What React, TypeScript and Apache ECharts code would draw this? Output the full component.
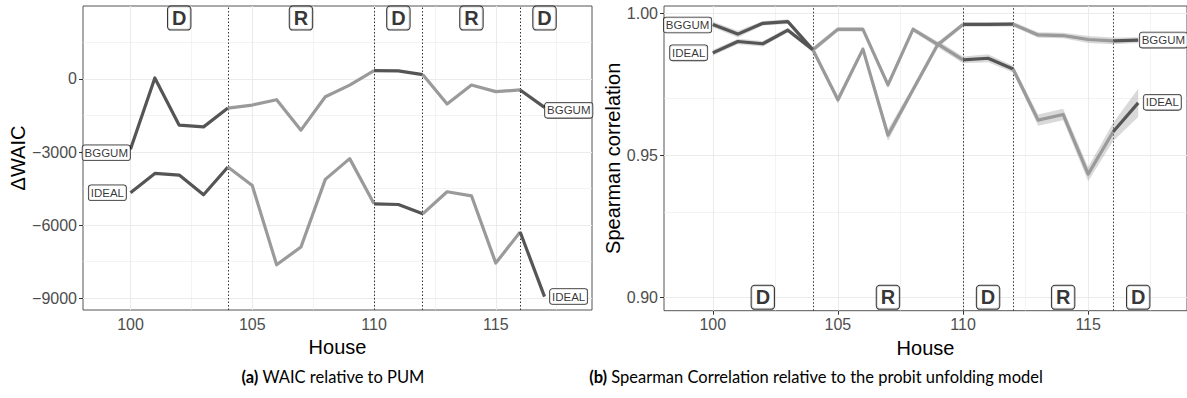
import React, { useEffect, useRef } from "react";
import * as echarts from "echarts";

// ---------- data ----------
const houses = [100, 101, 102, 103, 104, 105, 106, 107, 108, 109, 110, 111, 112, 113, 114, 115, 116, 117];

const waicBGGUM = [-2885, 40, -1895, -1965, -1195, -1070, -850, -2100, -730, -250, 340, 330, 180, -1030, -250, -520, -450, -1165];
const waicIDEAL = [-4670, -3874, -3943, -4750, -3614, -4368, -7624, -6895, -4121, -3268, -5122, -5150, -5534, -4629, -4794, -7555, -6277, -8929];

const corBGGUM = [0.9961, 0.9927, 0.9965, 0.9971, 0.9872, 0.9944, 0.9944, 0.9748, 0.9944, 0.989, 0.9961, 0.9961, 0.9962, 0.9924, 0.9922, 0.9908, 0.9903, 0.9906];
const corIDEAL = [0.9861, 0.9901, 0.9893, 0.9941, 0.9872, 0.9696, 0.9874, 0.9571, 0.9731, 0.9892, 0.9836, 0.9842, 0.9804, 0.9624, 0.9644, 0.9434, 0.9583, 0.9685];
const corBGGUMse = [0.001, 0.0012, 0.0008, 0.0008, 0.001, 0.0008, 0.0008, 0.0012, 0.0008, 0.001, 0.0008, 0.0008, 0.0008, 0.001, 0.001, 0.0012, 0.0012, 0.001];
const corIDEALse = [0.001, 0.001, 0.001, 0.0008, 0.001, 0.0013, 0.001, 0.002, 0.0012, 0.0012, 0.0012, 0.0014, 0.0012, 0.002, 0.002, 0.0025, 0.0032, 0.005];

const partyBreaks = [104, 110, 112, 116];
const majorities = ["D", "R", "D", "R", "D"];
const partyLabelX = [102, 107, 111, 114, 117];
const waicPartyLabelY = 2500;
const corPartyLabelY = 0.9;

const xMajor = [100, 105, 110, 115];
const xMinor = [102.5, 107.5, 112.5, 117.5];
const waicMajor = [-9000, -6000, -3000, 0];
const waicMinor = [-7500, -4500, -1500, 1500];
const corMajor = [0.9, 0.95, 1.0];
const corMinor = [0.925, 0.975];

// ---------- styles ----------
const FONT = "Liberation Sans, Arial, Helvetica, sans-serif";
const CAP_FONT = "Lato, Noto Sans, sans-serif";
const DARK = "#555555";
const LIGHT = "#9a9a9a";
const GRIDC = "#ebebeb";

function xAxisCfg(gridIndex: number) {
  return {
    type: "value",
    gridIndex,
    min: 98.05,
    max: 118.95,
    name: "House",
    nameLocation: "middle",
    nameGap: 22,
    nameTextStyle: { fontSize: 20, color: "#000", fontFamily: FONT },
    axisLine: { show: false },
    axisTick: { show: true, customValues: xMajor, length: 4, lineStyle: { color: "#333", width: 1 } },
    axisLabel: { customValues: xMajor, fontSize: 16, color: "#4d4d4d", fontFamily: FONT, margin: 6 },
    splitLine: { show: false },
    minorSplitLine: { show: false },
  };
}

function yAxisCfg(gridIndex: number, min: number, max: number, ticks: number[], name: string, nameGap: number, fmt: (v: number) => string) {
  return {
    type: "value",
    gridIndex,
    min,
    max,
    name,
    nameLocation: "middle",
    nameGap,
    nameTextStyle: { fontSize: 20, color: "#000", fontFamily: FONT },
    axisLine: { show: false },
    axisTick: { show: true, customValues: ticks, length: 4, lineStyle: { color: "#333", width: 1 } },
    axisLabel: { customValues: ticks, fontSize: 16, color: "#4d4d4d", fontFamily: FONT, margin: 6, formatter: fmt },
    splitLine: { show: false },
  };
}

function gridLines(xMaj: number[], xMin: number[], yMaj: number[], yMin: number[]) {
  const d: any[] = [];
  xMin.forEach((v) => d.push({ xAxis: v, lineStyle: { color: GRIDC, width: 0.6, type: "solid" } }));
  yMin.forEach((v) => d.push({ yAxis: v, lineStyle: { color: GRIDC, width: 0.6, type: "solid" } }));
  xMaj.forEach((v) => d.push({ xAxis: v, lineStyle: { color: GRIDC, width: 1.1, type: "solid" } }));
  yMaj.forEach((v) => d.push({ yAxis: v, lineStyle: { color: GRIDC, width: 1.1, type: "solid" } }));
  return { silent: true, symbol: "none", z: 1, label: { show: false }, animation: false, data: d };
}

function vLines() {
  return {
    silent: true,
    symbol: "none",
    z: 2,
    label: { show: false },
    animation: false,
    lineStyle: { color: "#333", width: 1, type: [1.5, 2] },
    data: partyBreaks.map((b) => ({ xAxis: b })),
  };
}

function segmentSeries(vals: number[], xi: number, yi: number) {
  const bounds = [houses[0], ...partyBreaks, houses[houses.length - 1]];
  const out: any[] = [];
  for (let s = 0; s < bounds.length - 1; s++) {
    const lo = bounds[s];
    const hi = bounds[s + 1];
    const data = houses.map((h, i) => [h, vals[i]]).filter((p) => p[0] >= lo && p[0] <= hi);
    out.push({
      type: "line",
      xAxisIndex: xi,
      yAxisIndex: yi,
      data,
      symbol: "none",
      silent: true,
      z: 4,
      lineStyle: { color: majorities[s] === "D" ? DARK : LIGHT, width: 3.2, join: "round", cap: "butt" },
    });
  }
  return out;
}

function ribbonSeries(vals: number[], se: number[]) {
  const data = houses.map((h, i) => [h, vals[i] - se[i], vals[i] + se[i]]);
  return {
    type: "custom",
    xAxisIndex: 1,
    yAxisIndex: 1,
    silent: true,
    z: 3,
    clip: true,
    data,
    encode: { x: 0, y: [1, 2] },
    renderItem: (params: any, api: any) => {
      if (params.dataIndex !== 0) return null;
      const upper = data.map((d) => api.coord([d[0], d[2]]));
      const lower = data.map((d) => api.coord([d[0], d[1]])).reverse();
      return {
        type: "polygon",
        shape: { points: [...upper, ...lower] },
        style: { fill: "rgba(150,150,150,0.36)", stroke: "none" },
      };
    },
  };
}

const boxLabel = {
  show: true,
  fontSize: 11.5,
  fontFamily: FONT,
  color: "#000",
  backgroundColor: "#fff",
  borderColor: "#000",
  borderWidth: 0.8,
  borderRadius: 2.5,
  padding: [2, 2, 1, 2],
  lineHeight: 12,
};

function endLabelSeries(vals: number[], name: string, xi: number, yi: number, sd: number, so: number, ed: number, eo: number) {
  const last = houses.length - 1;
  return {
    type: "scatter",
    xAxisIndex: xi,
    yAxisIndex: yi,
    symbolSize: 1,
    silent: true,
    z: 10,
    itemStyle: { color: "rgba(0,0,0,0)" },
    label: { ...boxLabel, formatter: name },
    data: [
      { value: [houses[0], vals[0]], label: { position: "left", distance: sd, offset: [0, so] } },
      { value: [houses[last], vals[last]], label: { position: "right", distance: ed, offset: [0, eo] } },
    ],
  };
}

function partySeries(xi: number, yi: number, yv: number, markLines: any) {
  return {
    type: "scatter",
    xAxisIndex: xi,
    yAxisIndex: yi,
    symbolSize: 1,
    silent: true,
    z: 10,
    itemStyle: { color: "rgba(0,0,0,0)" },
    label: {
      show: true,
      position: "inside",
      formatter: (p: any) => p.data[2],
      fontSize: 20,
      fontWeight: "bold",
      fontFamily: FONT,
      color: "#000",
      backgroundColor: "#fff",
      borderColor: "#000",
      borderWidth: 1,
      borderRadius: 3,
      padding: [2, 4, 1, 4],
      lineHeight: 20,
    },
    data: partyLabelX.map((x, i) => [x, yv, majorities[i]]),
    markLine: markLines,
  };
}

function guideHolder(xi: number, yi: number, yv: number, markLine: any) {
  return {
    type: "scatter",
    xAxisIndex: xi,
    yAxisIndex: yi,
    symbolSize: 0.5,
    silent: true,
    itemStyle: { color: "rgba(0,0,0,0)" },
    data: [[houses[0], yv]],
    markLine,
  };
}

export default function App() {
  const ref = useRef<HTMLDivElement>(null);
  useEffect(() => {
    if (!ref.current) return;
    const chart = echarts.init(ref.current, null, { renderer: "svg" });
    const capRich = { b: { fontWeight: "bold", fontFamily: CAP_FONT, fontSize: 16.5, fill: "#000" } };
    const option: any = {
      animation: false,
      backgroundColor: "#fff",
      grid: [
        { left: 83, top: 6, width: 509, height: 304, show: true, borderColor: "#555", borderWidth: 1, backgroundColor: "transparent", containLabel: false },
        { left: 664, top: 6, width: 523, height: 304.7, show: true, borderColor: "#555", borderWidth: 1, backgroundColor: "transparent", containLabel: false },
      ],
      xAxis: [xAxisCfg(0), xAxisCfg(1)],
      yAxis: [
        yAxisCfg(0, -9480, 2995, waicMajor, "\u0394WAIC", 55, (v: number) => (v < 0 ? "\u2212" + Math.abs(v) : String(v))),
        yAxisCfg(1, 0.8953, 1.0026, corMajor, "Spearman correlation", 40, (v: number) => v.toFixed(2)),
      ],
      series: [
        guideHolder(0, 0, waicMajor[0], gridLines(xMajor, xMinor, waicMajor, waicMinor)),
        guideHolder(1, 1, corMajor[0], gridLines(xMajor, xMinor, corMajor, corMinor)),
        ribbonSeries(corBGGUM, corBGGUMse),
        ribbonSeries(corIDEAL, corIDEALse),
        ...segmentSeries(waicBGGUM, 0, 0),
        ...segmentSeries(waicIDEAL, 0, 0),
        ...segmentSeries(corBGGUM, 1, 1),
        ...segmentSeries(corIDEAL, 1, 1),
        partySeries(0, 0, waicPartyLabelY, vLines()),
        partySeries(1, 1, corPartyLabelY, vLines()),
        endLabelSeries(waicBGGUM, "BGGUM", 0, 0, 0, 3.5, 0, 3),
        endLabelSeries(waicIDEAL, "IDEAL", 0, 0, 4, 0, 5, 0),
        endLabelSeries(corBGGUM, "BGGUM", 1, 1, 1, 0.5, 1, 0),
        endLabelSeries(corIDEAL, "IDEAL", 1, 1, 5, 0, 5, -0.5),
      ],
      graphic: [
        {
          type: "text",
          x: 333,
          y: 377,
          style: {
            text: "{b|(a)} WAIC relative to PUM",
            rich: capRich,
            fontFamily: CAP_FONT,
            fontSize: 16.5,
            fill: "#000",
            textAlign: "center",
            textVerticalAlign: "middle",
          },
        },
        {
          type: "text",
          x: 816,
          y: 377,
          style: {
            text: "{b|(b)} Spearman Correlation relative to the probit unfolding model",
            rich: capRich,
            fontFamily: CAP_FONT,
            fontSize: 16.5,
            fill: "#000",
            textAlign: "center",
            textVerticalAlign: "middle",
          },
        },
      ],
    };
    chart.setOption(option);
    return () => chart.dispose();
  }, []);
  return <div ref={ref} style={{ position: "absolute", left: 0, top: 0, width: 1187, height: 398 }} />;
}
